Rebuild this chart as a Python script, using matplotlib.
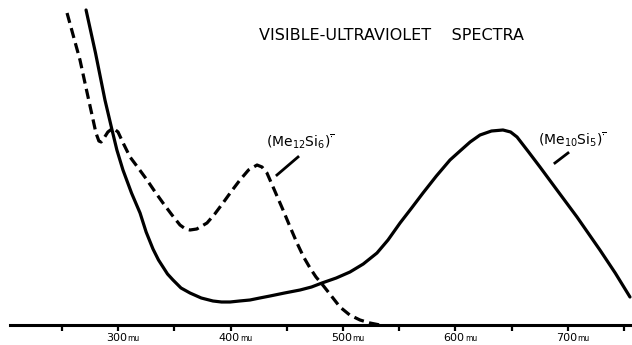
import matplotlib.pyplot as plt

# wavelength (nm) / relative absorbance
solid_nm = [271.6, 280.0, 288.4, 294.7, 299.0, 304.4, 312.0, 319.6, 325.0, 331.1,
            336.0, 340.0, 344.0, 348.9, 356.0, 364.0, 374.0, 384.4, 392.0, 399.6,
            408.0, 417.3, 426.0, 435.1, 448.0, 461.8, 472.0, 481.3, 494.0, 506.2,
            518.0, 530.2, 540.0, 550.7, 561.0, 571.1, 583.0, 595.1, 604.0, 613.0,
            621.8, 632.0, 642.2, 649.0, 654.7, 665.0, 675.1, 690.2, 708.0, 728.4,
            742.0, 755.1]
solid_abs = [3.15, 2.72, 2.25, 1.95, 1.75, 1.55, 1.32, 1.12, 0.93, 0.76,
             0.65, 0.58, 0.51, 0.45, 0.37, 0.32, 0.27, 0.24, 0.23, 0.23,
             0.24, 0.25, 0.27, 0.29, 0.32, 0.35, 0.38, 0.42, 0.47, 0.53,
             0.61, 0.72, 0.85, 1.02, 1.17, 1.32, 1.49, 1.65, 1.74, 1.83,
             1.90, 1.94, 1.95, 1.93, 1.88, 1.73, 1.58, 1.35, 1.08, 0.75,
             0.52, 0.28]

dashed_nm = [254.7, 266.2, 272.0, 276.9, 280.4, 283.0, 285.0, 287.6, 291.0, 295.6,
             300.0, 305.0, 310.7, 318.0, 325.8, 333.0, 340.0, 348.0, 355.1, 360.0,
             364.0, 370.0, 379.1, 386.0, 393.3, 401.0, 408.4, 416.0, 423.6, 428.0,
             432.4, 439.0, 446.7, 453.0, 459.1, 465.0, 470.7, 476.0, 481.3, 489.0,
             497.3, 506.0, 515.1, 524.0, 532.9]
dashed_abs = [3.12, 2.65, 2.35, 2.10, 1.92, 1.84, 1.83, 1.87, 1.93, 1.97,
              1.93, 1.81, 1.68, 1.57, 1.45, 1.33, 1.22, 1.10, 1.00, 0.96,
              0.95, 0.96, 1.02, 1.11, 1.22, 1.34, 1.45, 1.55, 1.60, 1.58,
              1.52, 1.35, 1.15, 0.98, 0.82, 0.68, 0.57, 0.48, 0.41, 0.30,
              0.18, 0.10, 0.05, 0.02, 0.0]

ticks = [250, 300, 350, 400, 450, 500, 550, 600, 650, 700, 750]
labeled = [300, 400, 500, 600, 700]

fig = plt.figure(figsize=(6.32, 3.45), dpi=100)
ax = fig.add_axes([0, 20 / 345, 1, 325 / 345])
ax.set_xlim(195.1, 756.9)
ax.set_ylim(0, 3.25)

ax.plot(solid_nm, solid_abs, color='black', lw=2.3,
        solid_joinstyle='round', solid_capstyle='round')
ax.plot(dashed_nm, dashed_abs, color='black', lw=2.3, dashes=(3.2, 1.7),
        dash_joinstyle='round')

# axis: only the bottom line
for s in ['left', 'right', 'top']:
    ax.spines[s].set_visible(False)
ax.spines['bottom'].set_linewidth(2.2)
ax.spines['bottom'].set_bounds(204.4, 757)
ax.set_yticks([])
ax.set_xticks(ticks)
ax.set_xticklabels([])
ax.tick_params(axis='x', direction='out', length=4, width=1.6, color='black')

trans = ax.get_xaxis_transform()
for t in labeled:
    ax.annotate(str(t), (t, 0), xycoords=trans, xytext=(6.5, -9.5),
                textcoords='offset points', ha='right', va='center', fontsize=8)
    ax.annotate('mu', (t, 0), xycoords=trans, xytext=(7, -10),
                textcoords='offset points', ha='left', va='center', fontsize=5.5)

ax.text(542.7, 2.90, 'VISIBLE-ULTRAVIOLET    SPECTRA', ha='center', va='center',
        fontsize=11.5, family='DejaVu Sans')

ax.text(461.8, 1.83, r'(Me$_{12}$Si$_6$)$^{\overline{\cdot}}$', ha='center',
        va='center', fontsize=10)
ax.plot([441.3, 460.0], [1.50, 1.68], color='black', lw=2)

ax.text(703.6, 1.85, r'(Me$_{10}$Si$_5$)$^{\overline{\cdot}}$', ha='center',
        va='center', fontsize=10)
ax.plot([688.4, 700.0], [1.62, 1.72], color='black', lw=2)

fig.savefig('out.png', dpi=100)
